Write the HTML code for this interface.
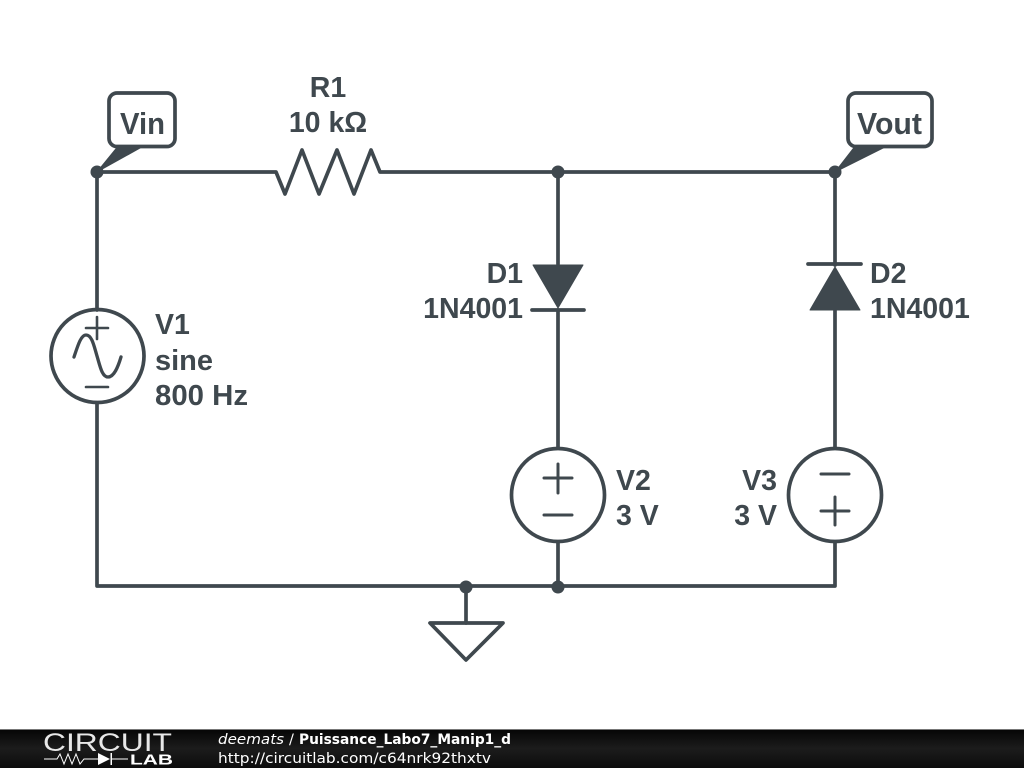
<!DOCTYPE html>
<html>
<head>
<meta charset="utf-8">
<style>
html,body{margin:0;padding:0;background:#fff;width:1024px;height:768px;overflow:hidden}
svg{display:block}
.l{font-family:"Liberation Sans",Arial,sans-serif;font-weight:bold;font-size:28.5px;fill:#3f484e}
.f{font-family:"DejaVu Sans",sans-serif;font-size:14.5px;fill:#fff}
</style>
</head>
<body>
<svg width="1024" height="768" viewBox="0 0 1024 768" xmlns="http://www.w3.org/2000/svg">
<defs>
<linearGradient id="g" x1="0" y1="0" x2="0" y2="1">
<stop offset="0" stop-color="#050505"/><stop offset="0.5" stop-color="#1c1c1c"/><stop offset="1" stop-color="#0c0c0c"/>
</linearGradient>
</defs>
<g fill="none" stroke="#3f484e" stroke-width="3.7" stroke-linecap="round" stroke-linejoin="round">
<!-- wires -->
<path d="M97 172H276L285 194L302 150L319 194L337 150L354 194L371 150L380 172H835"/>
<path d="M97 172V310M97 403V586H835V542M835 448V310M835 265V172"/>
<path d="M558 172V264M558 310V448M558 542V586"/>
<path d="M466 586V623"/>
<!-- ground -->
<path d="M430 623H503L466 660Z"/>
<!-- sources -->
<circle cx="97.500" cy="356" r="46.500"/>
<circle cx="558" cy="495" r="46.500"/>
<circle cx="835" cy="495" r="46.500"/>
<path stroke-width="2.600" d="M86 328H108M97 317V339M86 387H108"/>
<path stroke-width="3.300" d="M74 357C78 345 81 335 86 335C92 335 94 346 97 356C100 366 102 377 108 377C114 377 118 367 121 357"/>
<path stroke-width="3" d="M544 478H572M558 464V493M544 515H572"/>
<path stroke-width="3" d="M821 474H849M821 511H849M835 497V525"/>
<!-- diode bars -->
<path d="M532 310H584M808 264H861"/>
<!-- labels -->
<rect x="109" y="93" width="66" height="53.500" rx="8"/>
<rect x="848" y="93" width="84" height="53.500" rx="8"/>
</g>
<g fill="#3f484e" stroke="#3f484e" stroke-width="1" stroke-linejoin="round">
<path d="M533 265H583L558 308Z"/>
<path d="M810 310H860L835 267Z"/>
<path d="M97 172L117 147.500H141Z"/>
<path d="M835 172L854 147.500H884Z"/>
</g>
<g fill="#3f484e">
<circle cx="97" cy="172" r="6.500"/>
<circle cx="558" cy="172" r="6.500"/>
<circle cx="835" cy="172" r="6.500"/>
<circle cx="466" cy="587" r="6.500"/>
<circle cx="558" cy="587" r="6.500"/>
</g>
<g class="l">
<text class="l" x="120" y="134" style="font-size:30.500px" textLength="45" lengthAdjust="spacingAndGlyphs">Vin</text>
<text class="l" x="857" y="134" style="font-size:30.500px" textLength="65" lengthAdjust="spacingAndGlyphs">Vout</text>
<text class="l" x="328" y="97" text-anchor="middle">R1</text>
<text class="l" x="328" y="132" text-anchor="middle">10 kΩ</text>
<text class="l" x="155" y="334">V1</text>
<text class="l" x="155" y="370" textLength="58" lengthAdjust="spacingAndGlyphs">sine</text>
<text class="l" x="155" y="405" textLength="93" lengthAdjust="spacingAndGlyphs">800 Hz</text>
<text class="l" x="523" y="283" text-anchor="end">D1</text>
<text class="l" x="523" y="318" text-anchor="end">1N4001</text>
<text class="l" x="870" y="283">D2</text>
<text class="l" x="870" y="318">1N4001</text>
<text class="l" x="616" y="490">V2</text>
<text class="l" x="616" y="525">3 V</text>
<text class="l" x="777" y="490" text-anchor="end">V3</text>
<text class="l" x="777" y="525" text-anchor="end">3 V</text>
</g>
<!-- footer -->
<rect x="0" y="729" width="1024" height="39" fill="url(#g)"/>
<rect x="0" y="729" width="1024" height="1" fill="#777"/>
<text x="43" y="751" font-family="Liberation Sans,sans-serif" font-size="25" fill="#e8e8e8" textLength="129" lengthAdjust="spacingAndGlyphs">CIRCUIT</text>
<path d="M44 759H57L60 754L64 764L68 754L72 764L76 754L80 764L84 759H98M111 759H128" fill="none" stroke="#fff" stroke-width="1"/>
<path d="M98 753V765L110 759ZM110.500 753V765H112V753Z" fill="#fff"/>
<text x="130" y="764.500" font-family="Liberation Sans,sans-serif" font-weight="bold" font-size="14.500" fill="#fff" textLength="43" lengthAdjust="spacingAndGlyphs">LAB</text>
<text class="f" x="218" y="744" font-style="italic" textLength="66" lengthAdjust="spacingAndGlyphs">deemats</text>
<text class="f" x="289" y="744">/</text>
<text class="f" x="299" y="744" font-weight="bold" textLength="212" lengthAdjust="spacingAndGlyphs">Puissance_Labo7_Manip1_d</text>
<text class="f" x="218" y="763" textLength="273" lengthAdjust="spacingAndGlyphs">http://circuitlab.com/c64nrk92thxtv</text>
</svg>
</body>
</html>
